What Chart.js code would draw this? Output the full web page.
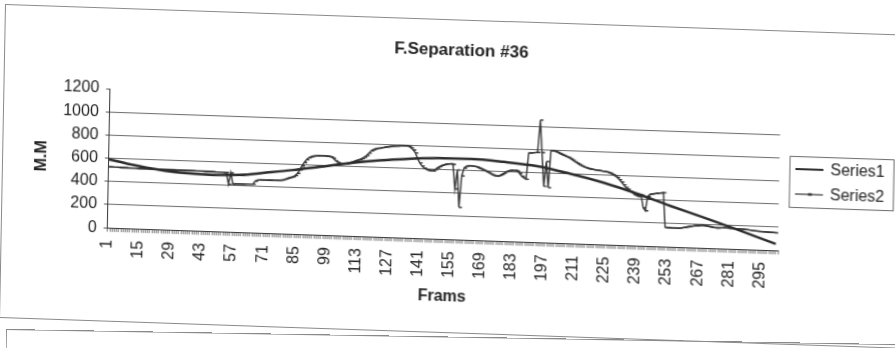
<!DOCTYPE html>
<html>
<head>
<meta charset="utf-8">
<title>F.Separation #36</title>
<script src="https://cdn.jsdelivr.net/npm/chart.js@4.4.1/dist/chart.umd.min.js"></script>
<style>
  html, body { margin: 0; padding: 0; background: #fff; overflow: hidden; }
  body { width: 895px; height: 348px; position: relative; }

  /* printed chart frame, slightly skewed like the scanned page */
  .sheet {
    position: absolute;
    left: 5px;
    top: 4px;
    width: 912px;
    height: 312px;
    border: 1px solid #8a8a8a;
    background: #fff;
    transform-origin: 0 0;
    transform: matrix(1, 0.034, -0.019, 1, 0, 0);
  }
  .next-sheet {
    position: absolute;
    left: 6px;
    top: 329px;
    width: 912px;
    height: 60px;
    border: 1px solid #8a8a8a;
    transform-origin: 0 0;
    transform: matrix(1, 0.017, -0.019, 1, 0, 0);
  }
  #chartWrap { position: absolute; left: 0; top: 0; width: 912px; height: 312px; }
</style>
</head>
<body>
<div class="sheet">
  <div id="chartWrap"><canvas id="sepChart"></canvas></div>
</div>
<div class="next-sheet"></div>

<script>
// -----------------------------
// Data
// -----------------------------
const frames = Array.from({ length: 302 }, (_, i) => i + 1);

// measured separation, one value per frame
const series2 = [
  525, 525, 524, 524, 524, 523, 523, 523, 523, 522,
  522, 522, 522, 521, 521, 521, 521, 520, 520, 520,
  520, 519, 519, 519, 519, 518, 518, 518, 518, 518,
  517, 517, 517, 517, 516, 516, 516, 516, 516, 515,
  515, 515, 515, 514, 514, 514, 514, 514, 513, 513,
  513, 513, 512, 512, 412, 510, 414, 416, 416, 416,
  417, 417, 418, 418, 418, 418, 445, 455, 456, 456,
  457, 457, 458, 458, 459, 459, 460, 460, 462, 468,
  475, 482, 488, 495, 505, 525, 555, 590, 620, 645,
  662, 672, 678, 680, 682, 684, 685, 684, 682, 680,
  676, 665, 645, 632, 625, 622, 622, 624, 628, 635,
  642, 650, 657, 663, 672, 685, 700, 720, 740, 752,
  760, 765, 768, 772, 776, 779, 782, 785, 787, 789,
  790, 792, 793, 795, 795, 790, 778, 760, 735, 690,
  651, 625, 607, 597, 590, 586, 585, 598, 614, 626,
  636, 643, 648, 651, 652, 648, 436, 600, 279, 551,
  620, 635, 640, 640, 638, 636, 630, 622, 614, 605,
  598, 588, 578, 568, 562, 560, 565, 575, 587, 600,
  608, 614, 616, 616, 610, 590, 566, 552, 541, 768,
  770, 772, 774, 775, 1055, 775, 485, 700, 475, 795,
  795, 790, 782, 773, 764, 756, 748, 740, 730, 718,
  705, 693, 682, 672, 664, 658, 652, 648, 645, 642,
  640, 637, 634, 632, 629, 624, 618, 608, 596, 583,
  565, 545, 522, 500, 485, 470, 458, 440, 432, 425,
  440, 330, 305, 430, 448, 452, 455, 458, 461, 463,
  466, 168, 165, 165, 164, 164, 164, 164, 166, 170,
  174, 178, 182, 185, 188, 191, 193, 195, 195, 193,
  190, 186, 182, 179, 178, 178, 179, 180, 180, 179,
  178, 178, 177, 177, 176, 175, 174, 172, 170, 168,
  166, 164, 162, 160, 159, 158, 157, 156, 155, 154,
  153, 152
];

// smooth trend, read at a few frames
const trendFrames = [1, 10, 18, 33, 48, 60, 72, 84, 96, 111, 123, 136, 149, 164, 179, 194, 209, 224, 239, 254, 269, 284, 302];
const trendValues = [590, 555, 530, 497, 487, 494, 522, 552, 588, 632, 660, 682, 698, 700, 684, 657, 601, 534, 450, 355, 265, 172, 56];

const chartTitle = "F.Separation #36";
const yMax = 1200;
const yStep = 200;
const labelEvery = 14;      // frame labels 1, 15, 29 ...
const lastLabel = 295;
const axisEnd = 303;

// -----------------------------
// Title centred on the whole frame (the built-in one centres
// between the layout paddings, which pulls it left)
// -----------------------------
const frameTitle = {
  id: "frameTitle",
  afterDraw(chart) {
    const { ctx } = chart;
    ctx.save();
    ctx.fillStyle = "#222";
    ctx.font = 'bold 17px "Liberation Sans", Arial, sans-serif';
    ctx.textAlign = "center";
    ctx.textBaseline = "middle";
    ctx.fillText(chartTitle, chart.width / 2, 30);
    ctx.restore();
  }
};

// -----------------------------
// Legend drawn as a framed box to the right of the plot
// -----------------------------
const boxLegend = {
  id: "boxLegend",
  afterDraw(chart) {
    const { ctx, chartArea } = chart;
    const w = 104;
    const h = 51;
    const left = Math.round(chartArea.right + 10);
    const top = Math.round((chartArea.top + chartArea.bottom) / 2 - h / 2);

    ctx.save();
    ctx.strokeStyle = "#6a6a6a";
    ctx.lineWidth = 1;
    ctx.strokeRect(left + 0.5, top + 0.5, w, h);

    chart.data.datasets.forEach((ds, i) => {
      const y = top + 13 + i * 25;
      ctx.strokeStyle = ds.borderColor;
      ctx.lineWidth = i === 0 ? 2 : 1.2;
      ctx.beginPath();
      ctx.moveTo(left + 6, y);
      ctx.lineTo(left + 34, y);
      ctx.stroke();

      if (ds.pointStyle === "dash") {
        ctx.lineWidth = 2.5;
        ctx.beginPath();
        ctx.moveTo(left + 19, y);
        ctx.lineTo(left + 23, y);
        ctx.stroke();
      }

      ctx.fillStyle = "#222";
      ctx.font = '16px "Liberation Sans", Arial, sans-serif';
      ctx.textBaseline = "middle";
      ctx.fillText(ds.label, left + 41, y + 1);
    });
    ctx.restore();
  }
};

// -----------------------------
// Chart
// -----------------------------
Chart.defaults.font.family = '"Liberation Sans", Arial, sans-serif';
Chart.defaults.color = "#222";

new Chart(document.getElementById("sepChart"), {
  type: "line",
  data: {
    datasets: [
      {
        label: "Series1",
        data: trendFrames.map((f, i) => ({ x: f, y: trendValues[i] })),
        borderColor: "#2a2a2a",
        borderWidth: 2.5,
        pointRadius: 0,
        cubicInterpolationMode: "monotone"
      },
      {
        label: "Series2",
        data: frames.map((f, i) => ({ x: f, y: series2[i] })),
        borderColor: "#333",
        borderWidth: 1.4,
        pointStyle: "dash",
        pointRadius: 3,
        pointBorderWidth: 1.4,
        pointBorderColor: "#333",
        pointBackgroundColor: "#333",
        tension: 0
      }
    ]
  },
  options: {
    responsive: true,
    maintainAspectRatio: false,
    animation: false,
    events: [],
    layout: {
      padding: { left: 25, right: 136, top: 80, bottom: 22 }
    },
    plugins: {
      legend: { display: false },
      tooltip: { enabled: false },
      title: { display: false }
    },
    scales: {
      x: {
        type: "linear",
        min: 1,
        max: axisEnd,
        afterBuildTicks: (scale) => {
          const t = [];
          for (let f = 1; f <= axisEnd; f++) t.push({ value: f });
          scale.ticks = t;
        },
        ticks: {
          autoSkip: false,
          minRotation: 90,
          maxRotation: 90,
          padding: 8,
          color: "#222",
          font: { size: 16 },
          callback: (v) => ((v - 1) % labelEvery === 0 && v <= lastLabel ? String(v) : "")
        },
        grid: {
          drawOnChartArea: false,
          drawTicks: true,
          tickLength: 4,
          color: "#7a7a7a"
        },
        border: { display: true, color: "#333", width: 1 },
        title: {
          display: true,
          text: "Frams",
          color: "#222",
          font: { size: 16, weight: "bold" },
          padding: { top: 1, bottom: 4 }
        }
      },
      y: {
        min: 0,
        max: yMax,
        ticks: {
          stepSize: yStep,
          padding: 7,
          color: "#222",
          font: { size: 16 },
          callback: (v) => String(v)
        },
        grid: {
          color: (c) => (c.tick && c.tick.value === yMax ? "rgba(0,0,0,0)" : "#6a6a6a"),
          tickColor: "#555",
          tickLength: 4,
          lineWidth: 1
        },
        border: { display: true, color: "#333", width: 1 },
        title: {
          display: true,
          text: "M.M",
          color: "#222",
          font: { size: 16, weight: "bold" },
          padding: { top: 4, bottom: 4 }
        }
      }
    }
  },
  plugins: [frameTitle, boxLegend]
});
</script>
</body>
</html>
